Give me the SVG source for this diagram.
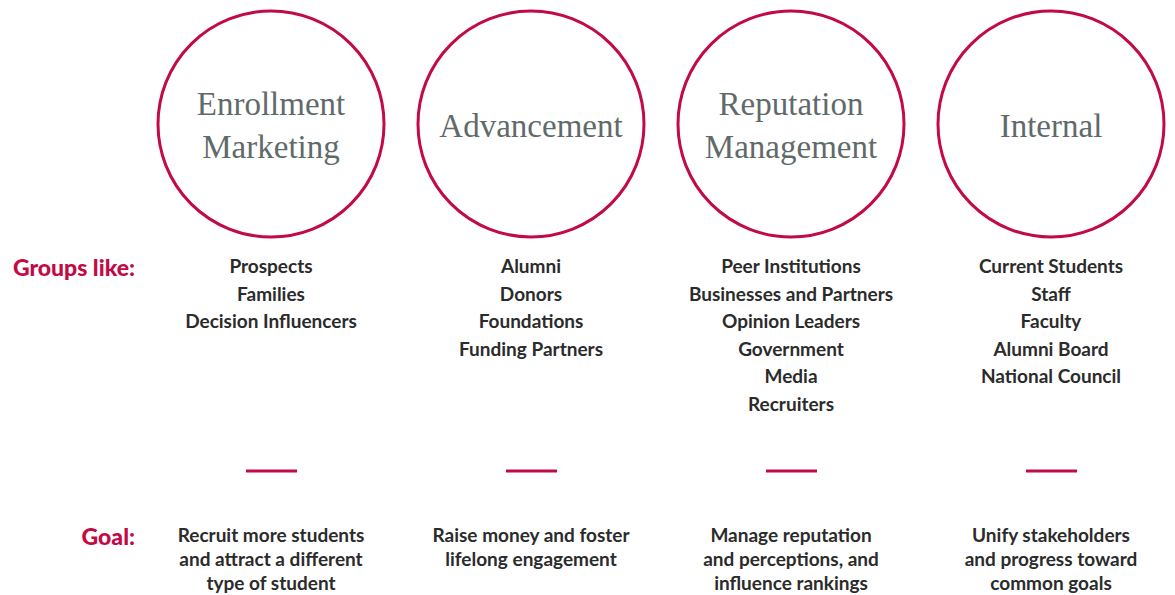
<svg xmlns="http://www.w3.org/2000/svg" width="1175" height="595" viewBox="0 0 1175 595">
  <style>
    .ring { fill: none; stroke: #c20a45; stroke-width: 3; }
    .title { font-family: "Liberation Serif", serif; font-size: 33px; fill: #5f6a6a; text-anchor: middle; }
    .item { font-family: Lato, "Liberation Sans", sans-serif; font-weight: bold; font-size: 19px; fill: #2b2b2b; text-anchor: middle; }
    .label { font-family: Lato, "Liberation Sans", sans-serif; font-weight: 900; font-size: 23px; fill: #c20a45; text-anchor: end; }
    .dash { stroke: #c20a45; stroke-width: 3; }
  </style>
  <rect width="1175" height="595" fill="#ffffff"/>

  <!-- row labels -->
  <g id="row-labels">
    <text class="label" x="135" y="276">Groups like:</text>
    <text class="label" x="135" y="545">Goal:</text>
  </g>

  <!-- separators between group lists and goals -->
  <g id="connectors">
    <line class="dash" x1="246" y1="471" x2="297" y2="471"/>
    <line class="dash" x1="506" y1="471" x2="557" y2="471"/>
    <line class="dash" x1="766" y1="471" x2="817" y2="471"/>
    <line class="dash" x1="1026" y1="471" x2="1077" y2="471"/>
  </g>

  <g id="enrollment">
    <circle class="ring" cx="271" cy="124" r="113"/>
    <text class="title" x="271" y="115">Enrollment</text>
    <text class="title" x="271" y="158">Marketing</text>
    <text class="item" x="271" y="273">Prospects</text>
    <text class="item" x="271" y="301">Families</text>
    <text class="item" x="271" y="328">Decision Influencers</text>
    <text class="item" x="271" y="542">Recruit more students</text>
    <text class="item" x="271" y="566">and attract a different</text>
    <text class="item" x="271" y="590">type of student</text>
  </g>

  <g id="advancement">
    <circle class="ring" cx="531" cy="124" r="113"/>
    <text class="title" x="531" y="137">Advancement</text>
    <text class="item" x="531" y="273">Alumni</text>
    <text class="item" x="531" y="301">Donors</text>
    <text class="item" x="531" y="328">Foundations</text>
    <text class="item" x="531" y="356">Funding Partners</text>
    <text class="item" x="531" y="542">Raise money and foster</text>
    <text class="item" x="531" y="566">lifelong engagement</text>
  </g>

  <g id="reputation">
    <circle class="ring" cx="791" cy="124" r="113"/>
    <text class="title" x="791" y="115">Reputation</text>
    <text class="title" x="791" y="158">Management</text>
    <text class="item" x="791" y="273">Peer Institutions</text>
    <text class="item" x="791" y="301">Businesses and Partners</text>
    <text class="item" x="791" y="328">Opinion Leaders</text>
    <text class="item" x="791" y="356">Government</text>
    <text class="item" x="791" y="383">Media</text>
    <text class="item" x="791" y="411">Recruiters</text>
    <text class="item" x="791" y="542">Manage reputation</text>
    <text class="item" x="791" y="566">and perceptions, and</text>
    <text class="item" x="791" y="590">influence rankings</text>
  </g>

  <g id="internal">
    <circle class="ring" cx="1051" cy="124" r="113"/>
    <text class="title" x="1051" y="137">Internal</text>
    <text class="item" x="1051" y="273">Current Students</text>
    <text class="item" x="1051" y="301">Staff</text>
    <text class="item" x="1051" y="328">Faculty</text>
    <text class="item" x="1051" y="356">Alumni Board</text>
    <text class="item" x="1051" y="383">National Council</text>
    <text class="item" x="1051" y="542">Unify stakeholders</text>
    <text class="item" x="1051" y="566">and progress toward</text>
    <text class="item" x="1051" y="590">common goals</text>
  </g>
</svg>
